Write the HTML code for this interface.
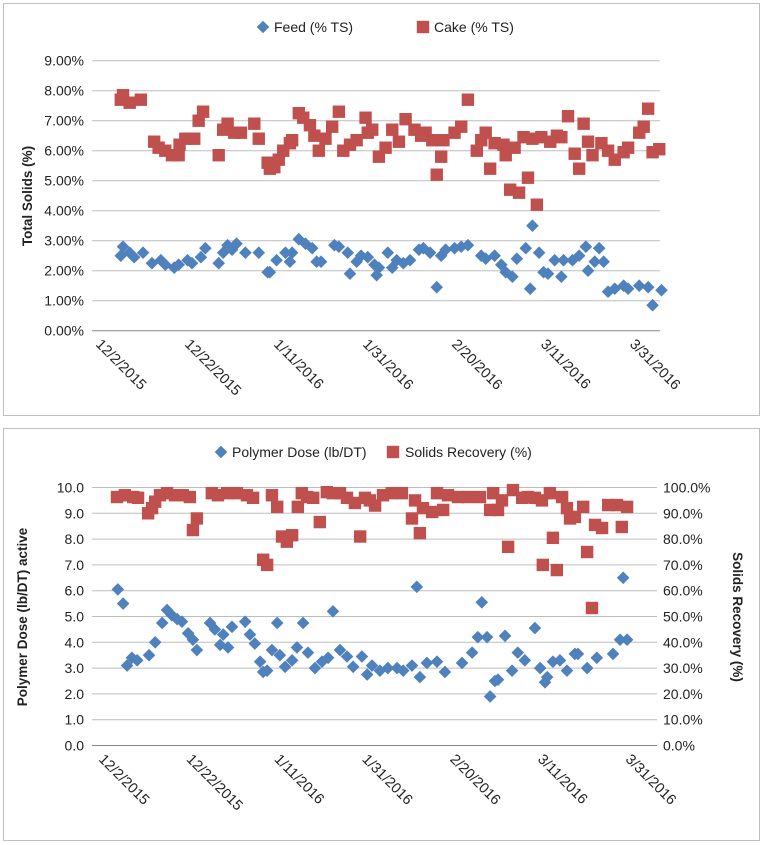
<!DOCTYPE html>
<html><head><meta charset="utf-8"><style>
body{margin:0;background:#fff;width:765px;height:845px;overflow:hidden}
svg{display:block;font-family:"Liberation Sans",sans-serif}
</style></head><body>
<svg id="svg" width="765" height="845">
<rect x="3.5" y="3.5" width="756" height="412" fill="#fff" stroke="#bfbfbf"/>
<rect x="3.5" y="428.5" width="756" height="412" fill="#fff" stroke="#bfbfbf"/>
<g id="top"></g>
<g id="bot"></g>
</svg>
<script>
const feedDays=[4,4.5,6,7,9,11,13,14,16,17,19,20,22,23,26,27,28,29,30,32,35,37,37.5,39,41,42,42.5,44,45.5,47,48,49,52,53,55,55.5,57,58,59.5,61,61.5,62,64,65,66,67.5,69,71,72,73.5,75,76,77,79,80.5,82,85,86,88,89.5,90.5,92,93,95,96,96.5,98,99,100,101.5,103,103.5,105.5,107,108.5,109,110.5,111.5,112.5,113.5,115,117,118,120.5,122.5,123.5,125.5];
const feedVals=[2.5,2.8,2.6,2.45,2.6,2.25,2.35,2.2,2.1,2.2,2.35,2.25,2.45,2.75,2.25,2.6,2.85,2.7,2.9,2.6,2.6,1.95,1.95,2.35,2.6,2.3,2.6,3.05,2.9,2.75,2.3,2.3,2.85,2.8,2.6,1.9,2.3,2.5,2.45,2.2,1.85,2.1,2.6,2.1,2.35,2.25,2.35,2.7,2.75,2.6,1.45,2.5,2.7,2.75,2.8,2.85,2.5,2.4,2.5,2.2,1.95,1.8,2.4,2.75,1.4,3.5,2.6,1.95,1.9,2.35,1.8,2.35,2.35,2.5,2.8,2.0,2.3,2.75,2.3,1.3,1.4,1.5,1.4,1.5,1.45,0.85,1.35];
const cakeDays=[4,4.5,6,8.5,11.5,12.5,14,15.5,17,17.2,18.5,20.5,21.5,22.5,26,27,28,29.5,31,34,35,37,37.5,38.5,39.5,40.5,42,42.5,44,45,46.5,47.5,48.5,50,51.5,53,54,55.5,57,59,59.5,60.5,62,63.5,65,66.5,68,70,71.5,72.5,74,75,76,76.5,79,80.5,82,84,85,86,87,88,90,90.5,91.5,92.5,93.5,94.5,95.5,96.5,97.5,98.5,100.5,102,103,104.5,106,107,108,109,110,112,113.5,115,117,118,120.5,121.5,122.5,123.5,125];
const cakeVals=[7.7,7.85,7.6,7.7,6.3,6.1,6.0,5.85,5.85,6.2,6.4,6.4,7.0,7.3,5.85,6.7,6.9,6.6,6.6,6.9,6.4,5.6,5.4,5.45,5.7,6.0,6.25,6.35,7.25,7.1,6.85,6.5,6.0,6.4,6.8,7.3,6.0,6.2,6.35,7.1,6.6,6.7,5.8,6.1,6.7,6.3,7.05,6.7,6.5,6.6,6.35,5.2,5.8,6.35,6.6,6.8,7.7,6.0,6.35,6.6,5.4,6.25,6.2,5.85,4.7,6.1,4.6,6.45,5.1,6.4,4.2,6.45,6.3,6.5,6.45,7.15,5.9,5.4,6.9,6.3,5.85,6.25,6.0,5.7,5.95,6.1,6.6,6.8,7.4,5.95,6.05];
const polyDays=[2.7,3.9,4.8,5.9,7.1,9.8,11.2,12.8,13.9,15,16.2,17.3,18.7,19.8,20.7,23.7,24.8,26,26.7,27.8,28.7,31.7,32.8,33.9,35.1,35.8,36.7,37.8,39,39.6,40.8,42.4,43.5,44.9,46,47.6,49.2,50.6,51.7,53.3,54.9,56.3,58.3,59.5,60.6,62.4,64.2,66.3,67.7,69.7,70.8,71.5,73.1,75.4,77.2,81.1,83.4,84.7,85.6,86.8,87.5,88.6,89.3,90.9,92.5,93.8,95.4,97.7,98.9,100,100.5,101.8,103.4,105,106.8,107.5,109.6,111.8,115.5,117.1,117.8,118.7];
const polyVals=[6.05,5.5,3.1,3.4,3.3,3.5,4.0,4.75,5.25,5.05,4.9,4.8,4.35,4.1,3.7,4.75,4.5,3.9,4.3,3.8,4.6,4.8,4.3,3.95,3.25,2.85,2.9,3.7,4.75,3.5,3.05,3.3,3.8,4.75,3.6,3.0,3.25,3.4,5.2,3.7,3.45,3.05,3.45,2.75,3.1,2.9,3.0,3.0,2.9,3.1,6.15,2.65,3.2,3.25,2.85,3.2,3.6,4.2,5.55,4.2,1.9,2.5,2.55,4.25,2.9,3.6,3.3,4.55,3.0,2.45,2.65,3.25,3.3,2.9,3.55,3.55,3.0,3.4,3.55,4.1,6.5,4.1];
const recDays=[2.5,4.3,6.2,7.3,9.6,10.5,11.2,12.3,13.9,15.7,17.5,19.1,19.8,20.7,24.1,25.5,27.6,29.8,32.1,33.5,35.8,36.7,37.8,39,40.1,41.2,42.4,43.7,44.6,45.8,47.2,48.7,50.3,51.7,53.3,54.9,56.7,57.9,59,60.1,61.3,63.1,65.1,67.4,69.7,70.4,71.5,72.2,74.3,75.4,76.8,77.9,80.2,82.5,85.2,87.5,88.2,89.3,90.2,91.6,92.7,94.8,96.1,97.7,99.3,99.5,101.1,101.8,102.7,103.9,105,105.7,106.8,108.7,109.6,110.7,111.4,113,114.4,116.4,117.5,118.7];
const recVals=[96.3,97,96.3,96,90,92,94.5,97,97.8,97,97,96.3,83.5,88,97.8,97,97.8,97.8,97,96,72,70,97,92.5,81,79,81.5,92.5,97.8,96.3,96,86.6,98.2,97.8,97.8,96,94,81,96,95,93,97,97.8,97.8,88,95,82.3,92,90.5,97.8,91.3,97,96.3,96.3,96.3,91.3,97.8,91.3,95,77,99,96,96.3,96,95,70,97.8,80.5,68,96.3,92,88,88.6,92.5,75,53.3,85.5,84.3,93.2,93.2,84.7,92.5];
const dateTicks=[0,20,40,60,80,100,120];
const dateLabels=["12/2/2015","12/22/2015","1/11/2016","1/31/2016","2/20/2016","3/11/2016","3/31/2016"];
const topTicks=[0,1,2,3,4,5,6,7,8,9];
const leftTicks=[0,1,2,3,4,5,6,7,8,9,10];
const rightTicks=[0,10,20,30,40,50,60,70,80,90,100];

const NS="http://www.w3.org/2000/svg";
function mk(parent,tag,attrs,text){const e=document.createElementNS(NS,tag);for(const k in attrs)e.setAttribute(k,attrs[k]);if(text!==undefined)e.textContent=text;parent.appendChild(e);return e;}
const BLUE="#4f81bd",RED="#c0504d";
function diamond(g,x,y){const s=6.3;return mk(g,"polygon",{points:`${x},${y-s} ${x+s},${y} ${x},${y+s} ${x-s},${y}`,fill:BLUE});}
function square(g,x,y){return mk(g,"rect",{x:x-6.2,y:y-6.2,width:12.4,height:12.4,fill:RED});}

// ---------- TOP ----------
const T=document.getElementById("top");
const tx=d=>103+d*4.45, ty=v=>330.7-v*30;
let e;
for(const v of topTicks){
  e=mk(T,"line",{x1:92,x2:660,y1:ty(v),y2:ty(v),stroke:v===0?"#868686":"#bdbdbd","stroke-width":1});
  
  
  e=mk(T,"text",{x:84,y:ty(v)+5,"text-anchor":"end","font-size":14,fill:"#222"},v.toFixed(2)+"%");
  
  
}
dateTicks.forEach((d,i)=>{
  e=mk(T,"text",{x:0,y:0,"font-size":14.5,fill:"#222",transform:`translate(${tx(d)-8},${345}) rotate(45)`},dateLabels[i]);
  
  
});
e=mk(T,"text",{x:0,y:0,"font-size":13.5,"font-weight":"bold",fill:"#222","text-anchor":"middle",transform:"translate(32,196) rotate(-90)"},"Total Solids (%)");


feedDays.forEach((d,i)=>{e=diamond(T,tx(d),ty(feedVals[i]));
  
  });
cakeDays.forEach((d,i)=>{e=square(T,tx(d),ty(cakeVals[i]));
  
  });
e=diamond(T,263,27);
e=mk(T,"text",{x:274,y:32,"font-size":14,fill:"#222"},"Feed (% TS)");
e=square(T,423,27);
e=mk(T,"text",{x:434,y:32,"font-size":14,fill:"#222"},"Cake (% TS)");

// ---------- BOTTOM ----------
const B=document.getElementById("bot");
const bx=d=>106+d*4.39, by=v=>745.5-v*25.8, byr=p=>745.5-p*2.58;
leftTicks.forEach((v,i)=>{
  e=mk(B,"line",{x1:92,x2:657,y1:by(v),y2:by(v),stroke:v===0?"#868686":"#bdbdbd","stroke-width":1});
  
  
  e=mk(B,"text",{x:84,y:by(v)+5,"text-anchor":"end","font-size":14,fill:"#222"},v.toFixed(1));
  
  
});
rightTicks.forEach(p=>{
  e=mk(B,"text",{x:663,y:byr(p)+5,"font-size":14,fill:"#222"},p.toFixed(1)+"%");
  
  
});
dateTicks.forEach((d,i)=>{
  e=mk(B,"text",{x:0,y:0,"font-size":14.5,fill:"#222",transform:`translate(${bx(d)-8},${760}) rotate(45)`},dateLabels[i]);
  
  
});
e=mk(B,"text",{x:0,y:0,"font-size":13.5,"font-weight":"bold",fill:"#222","text-anchor":"middle",transform:"translate(27,617) rotate(-90)"},"Polymer Dose (lb/DT) active");


e=mk(B,"text",{x:0,y:0,"font-size":13.5,"font-weight":"bold",fill:"#222","text-anchor":"middle",transform:"translate(733,617) rotate(90)"},"Solids Recovery (%)");


polyDays.forEach((d,i)=>{e=diamond(B,bx(d),by(polyVals[i]));
  
  });
recDays.forEach((d,i)=>{e=square(B,bx(d),byr(recVals[i]));
  
  });
e=diamond(B,221,452);
e=mk(B,"text",{x:232,y:457,"font-size":14,fill:"#222"},"Polymer Dose (lb/DT)");
e=square(B,393,452);
e=mk(B,"text",{x:405,y:457,"font-size":14,fill:"#222"},"Solids Recovery (%)");
</script>
</body></html>
